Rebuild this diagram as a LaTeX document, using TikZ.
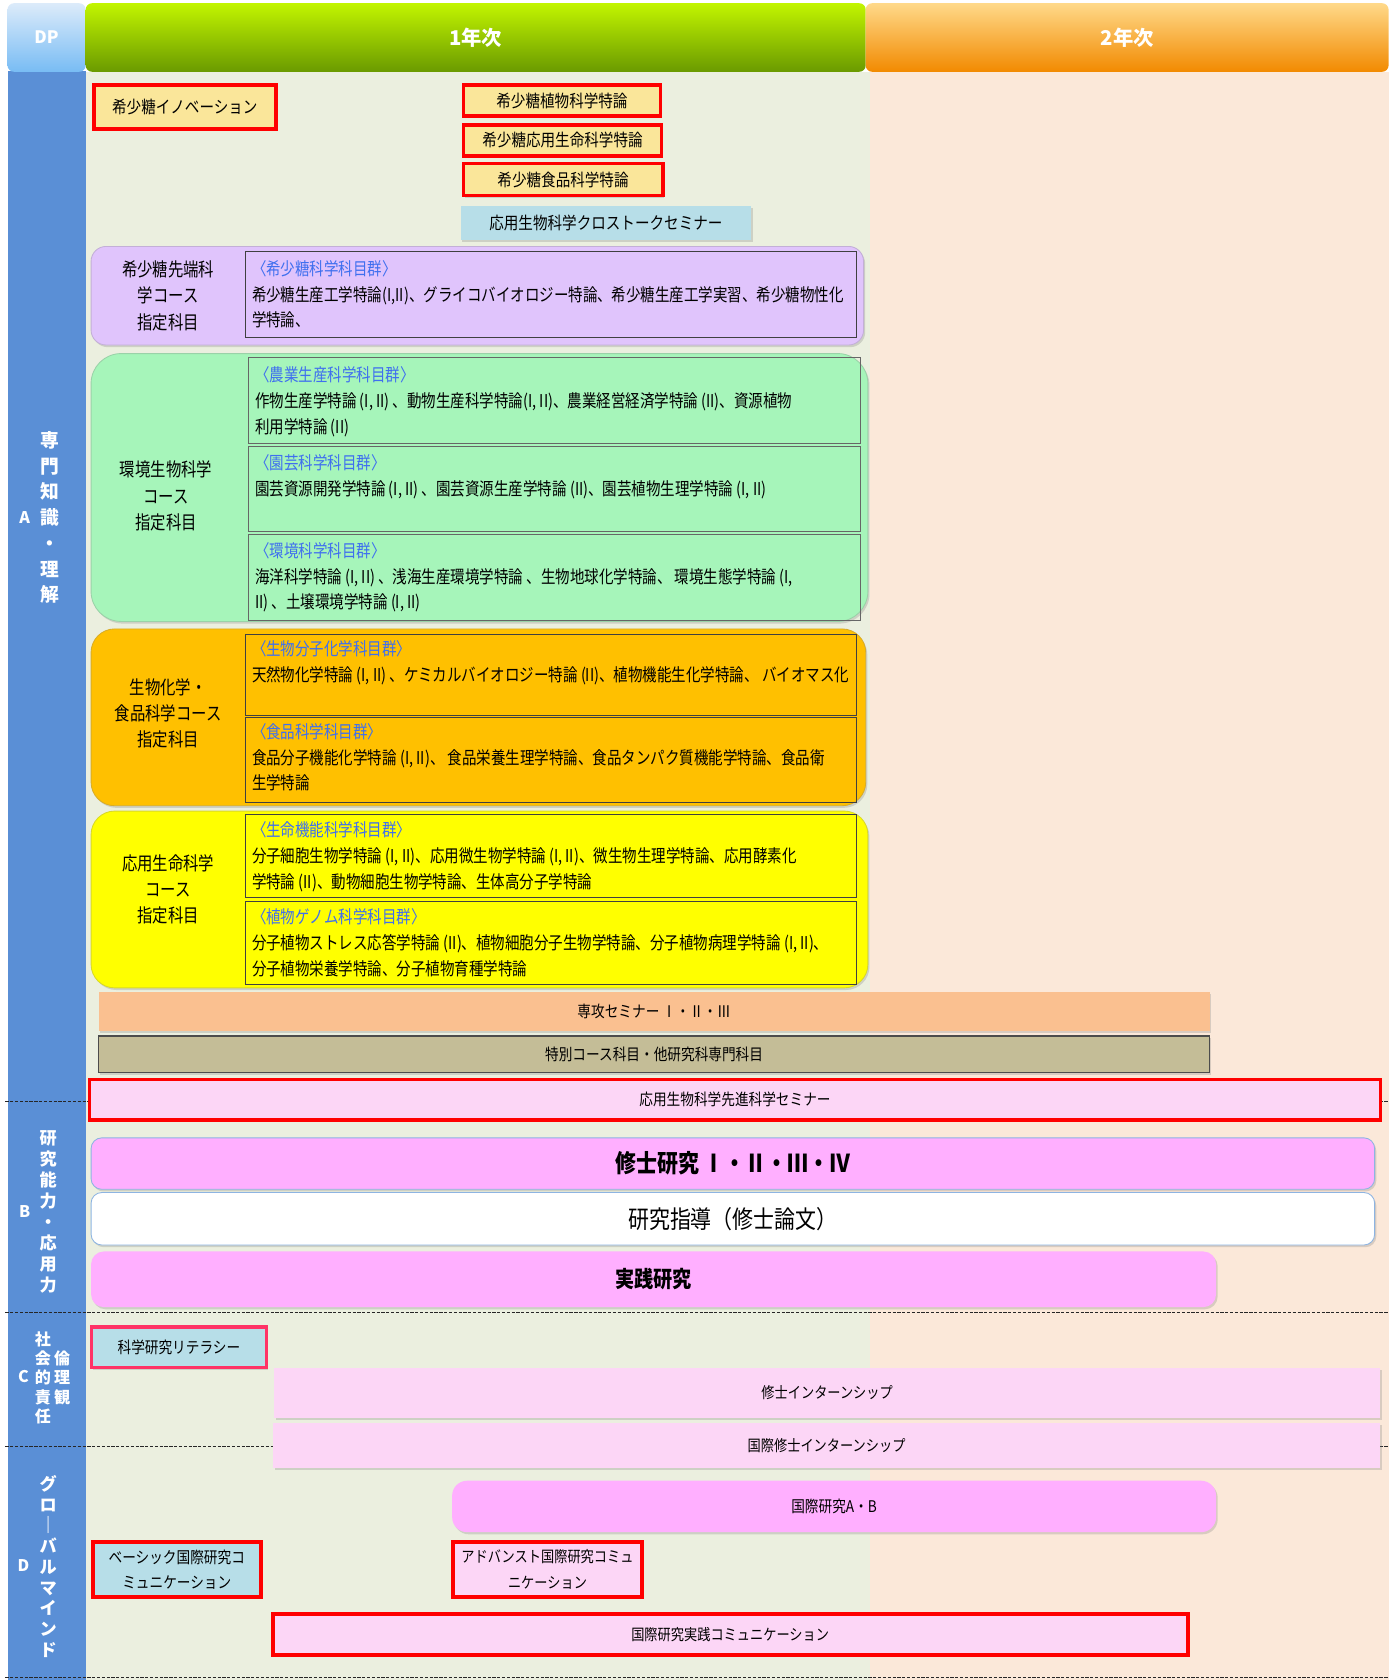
\documentclass[tikz,border=0pt]{standalone}
\usepackage{fontspec}
\newfontfamily\jp[FakeStretch=0.85]{Noto Sans CJK JP}
\newfontfamily\jpn[FakeStretch=0.82]{Noto Sans CJK JP}
\newfontfamily\jpb{Noto Sans CJK JP}
\usetikzlibrary{shadows}
\definecolor{colA}{HTML}{5A8FD6}
\definecolor{bgone}{HTML}{EBEFDF}
\definecolor{bgtwo}{HTML}{FBE8D9}
\definecolor{ylbox}{HTML}{FAE69A}
\definecolor{ltblue}{HTML}{B7DEE8}
\definecolor{pur}{HTML}{E0C4FC}
\definecolor{grn}{HTML}{A6F5BA}
\definecolor{org}{HTML}{FFC000}
\definecolor{ylw}{HTML}{FFFF00}
\definecolor{sem}{HTML}{FAC090}
\definecolor{tanc}{HTML}{C4BD97}
\definecolor{lpk}{HTML}{FCD6F6}
\definecolor{pk}{HTML}{FFAFFF}
\definecolor{hblue}{HTML}{3F6FEF}
\definecolor{rd}{HTML}{FF0000}
\definecolor{edgeblue}{HTML}{8DB4E2}
\definecolor{litedge}{HTML}{FF3366}
\definecolor{dptop}{HTML}{DCEBFA}
\definecolor{dpbot}{HTML}{78BCF4}
\definecolor{gtop}{HTML}{C2F500}
\definecolor{gmid}{HTML}{A2D400}
\definecolor{gbot}{HTML}{6A9A00}
\definecolor{otop}{HTML}{FFD98A}
\definecolor{omid}{HTML}{FFB84A}
\definecolor{obot}{HTML}{F28A00}
\begin{document}
\begin{tikzpicture}[x=1pt,y=-1pt,
  shd/.style={drop shadow={opacity=0.28, shadow xshift=1.5pt, shadow yshift=-2pt}},
  lbl/.style={font=\jpn\fontsize{17.5}{24.5}\selectfont, align=center, inner sep=0pt},
  body/.style={font=\jpn\fontsize{16.5}{24}\selectfont, align=left, anchor=north west, inner sep=0pt},
  innerbox/.style={draw=black!75, line width=0.8, inner sep=0pt},
  course/.style={shd, line width=0.8, inner sep=0pt},
  redbox/.style={shd, draw=rd, line width=3.5, font=\jp\fontsize{15}{24}\selectfont, align=center, inner sep=0pt},
  flat/.style={shd, font=\jp\fontsize{15}{24}\selectfont, align=center, inner sep=0pt},
  side/.style={text=white, align=center, inner sep=0pt},
  hd/.style={text=white, font=\jpb\bfseries\fontsize{19}{22}\selectfont, rounded corners=6, inner sep=0pt},
  dashln/.style={black!85, line width=1.1, dash pattern=on 3pt off 1.5pt}
]
\useasboundingbox (0,0) rectangle (1303,1568);
% backgrounds
\fill[bgone] (80,67) rectangle (812,1568);
\fill[bgtwo] (812,67) rectangle (1296,1568);
\fill[colA] (7,66) rectangle (80,1568);
% headers
\node[hd, top color=dptop, bottom color=dpbot, minimum width=73, minimum height=64, font=\jpb\bfseries\fontsize{16}{18}\selectfont] (dp) at (43.5,35) {DP};
\node[hd, top color=gtop, middle color=gmid, bottom color=gbot, minimum width=728, minimum height=64] (y1) at (444,35) {1年次};
\node[hd, top color=otop, middle color=omid, bottom color=obot, minimum width=488, minimum height=64] (y2) at (1052,35) {2年次};
% dashed separators
\draw[dashln] (5,1028) -- (1296,1028);
\draw[dashln] (5,1225) -- (1296,1225);
\draw[dashln] (5,1350) -- (1296,1350);
\draw[dashln] (5,1566) -- (1296,1566);
% side labels
\node[side, font=\jpb\bfseries\fontsize{15}{18}\selectfont] (la) at (23,483) {A};
\node[side, font=\jpb\bfseries\fontsize{17.5}{24}\selectfont] (ta) at (47,483) {専\\門\\知\\識\\・\\理\\解};
\node[side, font=\jpb\bfseries\fontsize{15}{18}\selectfont] (lb) at (23,1131) {B};
\node[side, font=\jpb\bfseries\fontsize{16}{19.7}\selectfont] (tb) at (45,1131) {研\\究\\能\\力\\・\\応\\用\\力};
\node[side, font=\jpb\bfseries\fontsize{15}{18}\selectfont] (lc) at (22,1285) {C};
\node[side, font=\jpb\bfseries\fontsize{15}{18}\selectfont] (tc) at (40,1286) {社\\会\\的\\責\\任};
\node[side, font=\jpb\bfseries\fontsize{15}{18}\selectfont] (tc2) at (58,1286) {倫\\理\\観};
\node[side, font=\jpb\bfseries\fontsize{15}{18}\selectfont] (ld) at (22,1461) {D};
\node[side, font=\jpb\bfseries\fontsize{16}{19.4}\selectfont] (td) at (45,1462) {グ\\ロ\\｜\\バ\\ル\\マ\\イ\\ン\\ド};
% top boxes
\node[redbox, fill=ylbox, minimum width=170, minimum height=41, font=\jp\fontsize{16}{24}\selectfont] (inno) at (172.5,100) {希少糖イノベーション};
\node[redbox, fill=ylbox, minimum width=184, minimum height=29, font=\jp\fontsize{16}{24}\selectfont] (tok1) at (524.5,94) {希少糖植物科学特論};
\node[redbox, fill=ylbox, minimum width=185, minimum height=29, font=\jp\fontsize{16}{24}\selectfont] (tok2) at (525,131) {希少糖応用生命科学特論};
\node[redbox, fill=ylbox, minimum width=186, minimum height=30, font=\jp\fontsize{16}{24}\selectfont] (tok3) at (525.5,167.5) {希少糖食品科学特論};
\node[flat, fill=ltblue, minimum width=271, minimum height=32, font=\jp\fontsize{16}{24}\selectfont] (cross) at (565.5,208) {応用生物科学クロストークセミナー};
% purple course
\node[course, fill=pur, draw=pur!70!gray, rounded corners=14, minimum width=721, minimum height=92] (purc) at (445.5,276) {};
\node[lbl] (purl) at (157,276) {希少糖先端科\\学コース\\指定科目};
\node[innerbox, minimum width=570, minimum height=80] (puri) at (514,275) {};
\node[body] (purt) at (235,243) {\textcolor{hblue}{〈希少糖科学科目群〉}\\希少糖生産工学特論(I,II)、グライコバイオロジー特論、希少糖生産工学実習、希少糖物性化\\学特論、};
% green course
\node[course, fill=grn, draw=grn!70!gray, rounded corners=28, minimum width=725, minimum height=250] (grnc) at (447.5,455) {};
\node[lbl] (grnl) at (155,463) {環境生物科学\\コース\\指定科目};
\node[innerbox, draw=black!60, minimum width=571, minimum height=80] (grn1) at (517.5,374) {};
\node[innerbox, draw=black!60, minimum width=571, minimum height=79] (grn2) at (517.5,456.5) {};
\node[innerbox, draw=black!60, minimum width=571, minimum height=80] (grn3) at (517.5,539) {};
\node[body] (grn1t) at (238,342) {\textcolor{hblue}{〈農業生産科学科目群〉}\\作物生産学特論 (I, II) 、動物生産科学特論(I, II)、農業経営経済学特論 (II)、資源植物\\利用学特論 (II)};
\node[body] (grn2t) at (238,424) {\textcolor{hblue}{〈園芸科学科目群〉}\\園芸資源開発学特論 (I, II) 、園芸資源生産学特論 (II)、園芸植物生理学特論 (I, II)};
\node[body] (grn3t) at (238,506) {\textcolor{hblue}{〈環境科学科目群〉}\\海洋科学特論 (I, II) 、浅海生産環境学特論 、生物地球化学特論、 環境生態学特論 (I,\\II) 、土壌環境学特論 (I, II)};
% orange course
\node[course, fill=org, draw=org!70!gray, rounded corners=22, minimum width=723, minimum height=165] (orgc) at (446.5,669.5) {};
\node[lbl] (orgl) at (157,666) {生物化学・\\食品科学コース\\指定科目};
\node[innerbox, minimum width=570, minimum height=76] (org1) at (514,630) {};
\node[innerbox, minimum width=570, minimum height=79] (org2) at (514,709.5) {};
\node[body] (org1t) at (235,598) {\textcolor{hblue}{〈生物分子化学科目群〉}\\天然物化学特論 (I, II) 、ケミカルバイオロジー特論 (II)、植物機能生化学特論、 バイオマス化};
\node[body] (org2t) at (235,675) {\textcolor{hblue}{〈食品科学科目群〉}\\食品分子機能化学特論 (I, II)、 食品栄養生理学特論、食品タンパク質機能学特論、食品衛\\生学特論};
% yellow course
\node[course, fill=ylw, draw=ylw!70!gray, rounded corners=22, minimum width=725, minimum height=165] (ylwc) at (447.5,839.5) {};
\node[lbl] (ylwl) at (157,830) {応用生命科学\\コース\\指定科目};
\node[innerbox, minimum width=570, minimum height=78] (ylw1) at (514,799) {};
\node[innerbox, minimum width=570, minimum height=78] (ylw2) at (514,880) {};
\node[body] (ylw1t) at (235,767) {\textcolor{hblue}{〈生命機能科学科目群〉}\\分子細胞生物学特論 (I, II)、応用微生物学特論 (I, II)、微生物生理学特論、応用酵素化\\学特論 (II)、動物細胞生物学特論、生体高分子学特論};
\node[body] (ylw2t) at (235,848) {\textcolor{hblue}{〈植物ゲノム科学科目群〉}\\分子植物ストレス応答学特論 (II)、植物細胞分子生物学特論、分子植物病理学特論 (I, II)、\\分子植物栄養学特論、分子植物育種学特論};
% seminars
\node[flat, fill=sem, minimum width=1037, minimum height=36] (semi) at (610.5,944) {専攻セミナー Ⅰ・Ⅱ・Ⅲ};
\node[flat, fill=tanc, draw=black!70, line width=1.2, minimum width=1037, minimum height=34] (spec) at (610.5,984) {特別コース科目・他研究科専門科目};
\node[redbox, fill=lpk, minimum width=1205, minimum height=38] (adv) at (686,1026.5) {応用生物科学先進科学セミナー};
% B section
\node[flat, fill=pk, draw=edgeblue, line width=0.8, rounded corners=10, minimum width=1198, minimum height=48, font=\jp\bfseries\fontsize{23}{26}\selectfont] (shushi) at (684,1086) {修士研究 Ⅰ・Ⅱ・Ⅲ・Ⅳ};
\node[flat, fill=white, draw=edgeblue, line width=0.8, rounded corners=10, minimum width=1198, minimum height=49, font=\jp\fontsize{23}{26}\selectfont] (shido) at (684,1137.5) {研究指導（修士論文）};
\node[flat, fill=pk, rounded corners=12, minimum width=1050, minimum height=52, font=\jp\bfseries\fontsize{21}{26}\selectfont] (jissen) at (610,1194) {実践研究};
% C section
\node[flat, fill=ltblue, draw=litedge, line width=3, minimum width=163, minimum height=38] (lit) at (167,1257.5) {科学研究リテラシー};
\node[flat, fill=lpk, minimum width=1032, minimum height=46, font=\jp\fontsize{14.5}{24}\selectfont] (intern) at (772,1300) {修士インターンシップ};
\node[flat, fill=lpk, minimum width=1033, minimum height=42, font=\jp\fontsize{14.5}{24}\selectfont] (iintern) at (771.5,1349) {国際修士インターンシップ};
% D section
\node[flat, fill=pk, rounded corners=14, minimum width=713, minimum height=48] (iab) at (778.5,1406) {国際研究A・B};
\node[redbox, fill=ltblue, minimum width=157, minimum height=51] (basic) at (165,1465) {ベーシック国際研究コ\\ミュニケーション};
\node[redbox, fill=lpk, minimum width=177, minimum height=51, font=\jp\fontsize{14.5}{24}\selectfont] (advc) at (511,1465) {アドバンスト国際研究コミュ\\ニケーション};
\node[redbox, fill=lpk, minimum width=854, minimum height=38, font=\jp\fontsize{14.5}{24}\selectfont] (prac) at (681.5,1525.5) {国際研究実践コミュニケーション};
\end{tikzpicture}
\end{document}
